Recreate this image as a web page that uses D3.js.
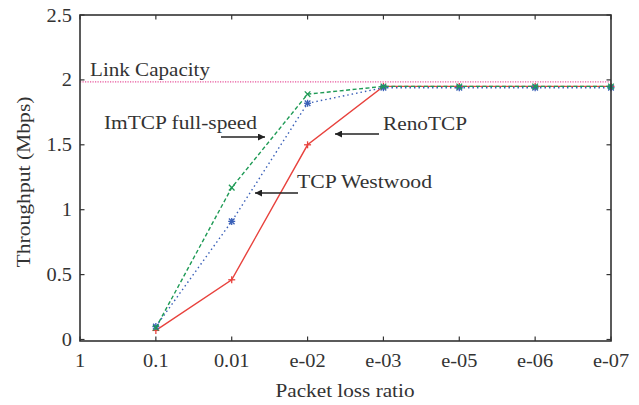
<!DOCTYPE html>
<html><head><meta charset="utf-8">
<script src="https://cdn.jsdelivr.net/npm/d3@7"></script>
<style>body{margin:0;background:#fff}svg{display:block}text{font-family:"Liberation Serif","Times New Roman",serif;fill:#333}</style>
</head><body><svg id="c" width="639" height="405"></svg>
<script>
const categories = ["1","0.1","0.01","e-02","e-03","e-05","e-06","e-07"];
const imtcp    = [null,0.09,1.17,1.89,1.95,1.95,1.95,1.95];
const westwood = [null,0.10,0.91,1.82,1.94,1.94,1.94,1.94];
const reno     = [null,0.07,0.46,1.50,1.95,1.95,1.95,1.95];
const linkCapacity = 1.985;
const yTicks = [0,0.5,1,1.5,2,2.5];

const svg = d3.select("#c");
const L=80,R=611,T=15,B=339.5;
const x = d3.scalePoint().domain(categories).range([L,R]);
const y = d3.scaleLinear().domain([0,2.5]).range([B,T]);

// link capacity
svg.append("line").attr("x1",L).attr("x2",R).attr("y1",y(linkCapacity)).attr("y2",y(linkCapacity))
  .attr("stroke","#e8559c").attr("stroke-width",1.4).attr("stroke-dasharray","1.2,1.3");

const series = [
  {name:"Reno", v:reno, color:"#e8423d", dash:null, marker:"plus"},
  {name:"Westwood", v:westwood, color:"#3a60b8", dash:"1.5,3", marker:"star"},
  {name:"ImTCP", v:imtcp, color:"#1e9a55", dash:"4,2.5", marker:"cross"}
];
const line = d3.line().defined(d=>d.v!=null).x(d=>x(d.c)).y(d=>y(d.v));
series.forEach(s=>{
  const pts = categories.map((c,i)=>({c,v:s.v[i]})).filter(d=>d.v!=null);
  svg.append("path").datum(pts).attr("d",line).attr("fill","none")
    .attr("stroke",s.color).attr("stroke-width",1.4).attr("stroke-dasharray",s.dash);
  const g = svg.append("g").attr("stroke",s.color).attr("stroke-width",1.3);
  pts.forEach(d=>{
    const cx=x(d.c), cy=y(d.v), r=3.5;
    if(s.marker==="plus"||s.marker==="star"){
      g.append("line").attr("x1",cx-r).attr("x2",cx+r).attr("y1",cy).attr("y2",cy);
      g.append("line").attr("x1",cx).attr("x2",cx).attr("y1",cy-r).attr("y2",cy+r);
    }
    if(s.marker==="cross"||s.marker==="star"){
      const q=r*0.8;
      g.append("line").attr("x1",cx-q).attr("x2",cx+q).attr("y1",cy-q).attr("y2",cy+q);
      g.append("line").attr("x1",cx-q).attr("x2",cx+q).attr("y1",cy+q).attr("y2",cy-q);
    }
  });
});

// axes frame
const ax = svg.append("g").attr("stroke","#333");
ax.append("rect").attr("x",L).attr("y",T).attr("width",R-L).attr("height",B+1.5-T)
  .attr("fill","none").attr("stroke-width",1.6);
function stretch(sel,f){sel.each(function(){const w=this.getComputedTextLength();this.setAttribute("textLength",w*f);this.setAttribute("lengthAdjust","spacingAndGlyphs");});}
categories.forEach(c=>{
  const xx=x(c);
  ax.append("line").attr("x1",xx).attr("x2",xx).attr("y1",B+1.5).attr("y2",B-3).attr("stroke-width",1.2);
  ax.append("line").attr("x1",xx).attr("x2",xx).attr("y1",T).attr("y2",T+4.5).attr("stroke-width",1.2);
  stretch(svg.append("text").attr("x",xx).attr("y",367).attr("text-anchor","middle").attr("font-size",18.5).text(c),1.1);
});
yTicks.forEach(t=>{
  const yy=y(t);
  ax.append("line").attr("x1",L).attr("x2",L+4.5).attr("y1",yy).attr("y2",yy).attr("stroke-width",1.2);
  ax.append("line").attr("x1",R).attr("x2",R-4.5).attr("y1",yy).attr("y2",yy).attr("stroke-width",1.2);
  stretch(svg.append("text").attr("x",72).attr("y",yy+6.5).attr("text-anchor","end").attr("font-size",18.5).text(t),1.1);
});

svg.append("text").attr("transform","translate(30,182) rotate(-90)").attr("text-anchor","middle")
  .attr("font-size",19).attr("textLength",171).attr("lengthAdjust","spacingAndGlyphs").text("Throughput (Mbps)");
svg.append("text").attr("x",345).attr("y",397).attr("text-anchor","middle").attr("font-size",19)
  .attr("textLength",139).attr("lengthAdjust","spacingAndGlyphs").text("Packet loss ratio");

// annotations
const ann=[
  {t:"Link Capacity",x:90,y:76,w:120},
  {t:"ImTCP full-speed",x:104,y:129,w:153},
  {t:"TCP Westwood",x:297,y:188,w:135},
  {t:"RenoTCP",x:383,y:130,w:84}
];
ann.forEach(a=>svg.append("text").attr("x",a.x).attr("y",a.y).attr("font-size",19.5)
  .attr("textLength",a.w).attr("lengthAdjust","spacingAndGlyphs").text(a.t));
svg.append("defs").append("marker").attr("id","ah").attr("viewBox","0 0 10 10").attr("refX",10).attr("refY",5)
  .attr("markerWidth",10).attr("markerHeight",7).attr("markerUnits","userSpaceOnUse").attr("orient","auto")
  .append("path").attr("d","M0,0L10,5L0,10z").attr("fill","#222");
const arrows=[[221,137,265,137],[298,193,255,193],[379,134,335,134]];
arrows.forEach(a=>svg.append("line").attr("x1",a[0]).attr("y1",a[1]).attr("x2",a[2]).attr("y2",a[3])
  .attr("stroke","#222").attr("stroke-width",1.6).attr("marker-end","url(#ah)"));
</script></body></html>
